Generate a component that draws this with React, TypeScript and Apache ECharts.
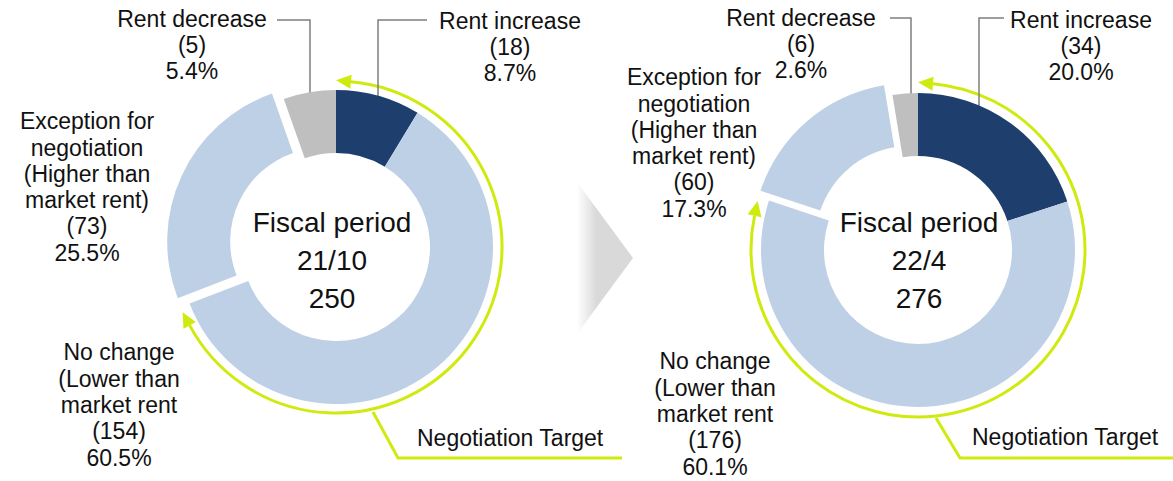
import React, { useEffect, useRef } from 'react';
import * as echarts from 'echarts';

// ---- data ----
const categories = [
  'Rent increase',
  'No change\n(Lower than\nmarket rent',
  'Exception for\nnegotiation\n(Higher than\nmarket rent)',
  'Rent decrease',
];
const periods = ['21/10', '22/4'];
const totals = [250, 276];
const countsA = [18, 154, 73, 5];
const sharesA = [8.7, 60.5, 25.5, 5.4];
const countsB = [34, 176, 60, 6];
const sharesB = [20.0, 60.1, 17.3, 2.6];
const targetLabel = 'Negotiation Target';
const centerTitle = 'Fiscal period';

const colors = ['#1E3F6E', '#BED0E6', '#BED0E6', '#BFBFBF'];
const GREEN = '#CFEA0F';
const FONT = '"Liberation Sans", Arial, sans-serif';
const EXPLODED = 2; // index of the slice pulled out of the ring
const EXPLODE_PX = 13;

// ---- layout (pixel positions of decorations) ----
const layouts = [
  {
    center: [336, 247],
    textCenter: [332, 260],
    arcR: 166,
    arcEnd: 247,
    labels: [[510, 47], [119, 405], [87, 187], [192, 45]],
    lines: {
      0: [[378, 108], [378, 20], [427, 20]],
      3: [[310, 108], [310, 20], [277, 20]],
    } as Record<number, number[][]>,
    targetText: [417, 438],
    targetLine: [[373, 412], [398, 458], [622, 458]],
  },
  {
    center: [918, 250],
    textCenter: [919, 260],
    arcR: 167,
    arcEnd: 287,
    labels: [[1081, 46], [715, 414], [694, 143], [801, 44]],
    lines: {
      0: [[979, 113], [979, 18], [1004, 18]],
      3: [[911, 102], [911, 18], [890, 18]],
    } as Record<number, number[][]>,
    targetText: [972, 437],
    targetLine: [[936, 418], [960, 458], [1173, 458]],
  },
];

const deg = Math.PI / 180;

function arrowHead(cx: number, cy: number, r: number, thetaDeg: number, dirSign: number) {
  const t = thetaDeg * deg;
  const px = cx + r * Math.sin(t);
  const py = cy - r * Math.cos(t);
  const dx = dirSign * Math.cos(t);
  const dy = dirSign * Math.sin(t);
  const nx = -dy;
  const ny = dx;
  const L = 15;
  const W = 14;
  return {
    type: 'polygon',
    shape: {
      points: [
        [px + L * dx, py + L * dy],
        [px + (W / 2) * nx, py + (W / 2) * ny],
        [px - (W / 2) * nx, py - (W / 2) * ny],
      ],
    },
    style: { fill: GREEN },
    silent: true,
  };
}

export default function App() {
  const ref = useRef<HTMLDivElement>(null);

  useEffect(() => {
    if (!ref.current) return;
    const chart = echarts.init(ref.current, undefined, { renderer: 'svg' });

    const datasets = [
      { counts: countsA, shares: sharesA },
      { counts: countsB, shares: sharesB },
    ];

    const series: any[] = [];
    datasets.forEach((ds, si) => {
      const lay = layouts[si];
      const total = ds.shares.reduce((a, b) => a + b, 0);
      const before = ds.shares.slice(0, EXPLODED).reduce((a, b) => a + b, 0);
      const midDeg = ((before + ds.shares[EXPLODED] / 2) / total) * 360;
      const offCenter = [
        lay.center[0] + EXPLODE_PX * Math.sin(midDeg * deg),
        lay.center[1] - EXPLODE_PX * Math.cos(midDeg * deg),
      ];

      // main ring with labels
      series.push({
        type: 'pie',
        center: lay.center,
        radius: [94, 157],
        startAngle: 90,
        clockwise: true,
        avoidLabelOverlap: false,
        animation: false,
        emphasis: { disabled: true, scale: false },
        label: {
          show: true,
          position: 'outside',
          formatter: (p: any) =>
            `${p.name}\n(${ds.counts[p.dataIndex]})\n${ds.shares[p.dataIndex].toFixed(1)}%`,
          fontSize: 23,
          lineHeight: 26.3,
          color: '#111',
          fontFamily: FONT,
          align: 'center',
        },
        labelLine: {
          show: true,
          length: 5,
          length2: 5,
          smooth: false,
          lineStyle: { color: '#7F7F7F', width: 1.5 },
        },
        labelLayout: (params: any) => {
          const [x, y] = lay.labels[params.dataIndex];
          const out: any = { x, y, align: 'center', verticalAlign: 'middle' };
          const lp = lay.lines[params.dataIndex];
          if (lp) out.labelLinePoints = lp;
          return out;
        },
        data: ds.shares.map((v, i) => ({
          value: v,
          name: categories[i],
          itemStyle: { color: i === EXPLODED ? 'rgba(0,0,0,0)' : colors[i] },
          labelLine: { show: i === 0 || i === 3 },
        })),
      });

      // the pulled-out slice
      series.push({
        type: 'pie',
        center: offCenter,
        radius: [94, 157],
        startAngle: 90,
        clockwise: true,
        animation: false,
        silent: true,
        emphasis: { disabled: true, scale: false },
        label: { show: false },
        labelLine: { show: false },
        data: ds.shares.map((v, i) => ({
          value: v,
          name: categories[i],
          itemStyle: { color: i === EXPLODED ? colors[i] : 'rgba(0,0,0,0)' },
        })),
      });
    });

    const graphics: any[] = [];
    layouts.forEach((lay, si) => {
      const [cx, cy] = lay.center;
      const r = lay.arcR;
      const aHead = 15 / r / deg;
      graphics.push({
        type: 'arc',
        shape: {
          cx,
          cy,
          r,
          startAngle: (aHead - 90) * deg,
          endAngle: (lay.arcEnd - aHead - 90) * deg,
          clockwise: true,
        },
        style: { stroke: GREEN, lineWidth: 3, fill: 'none' },
        silent: true,
      });
      graphics.push(arrowHead(cx, cy, r, aHead, -1));
      graphics.push(arrowHead(cx, cy, r, lay.arcEnd - aHead, 1));
      graphics.push({
        type: 'polyline',
        shape: { points: lay.targetLine },
        style: { stroke: GREEN, lineWidth: 3, fill: 'none' },
        silent: true,
      });
      graphics.push({
        type: 'text',
        x: lay.targetText[0],
        y: lay.targetText[1],
        style: {
          text: targetLabel,
          fontSize: 23,
          fontFamily: FONT,
          fill: '#111',
          align: 'left',
          verticalAlign: 'middle',
        },
        silent: true,
      });
      graphics.push({
        type: 'text',
        x: lay.textCenter[0],
        y: lay.textCenter[1],
        style: {
          text: `${centerTitle}\n${periods[si]}\n${totals[si]}`,
          fontSize: 28,
          lineHeight: 38,
          fontFamily: FONT,
          fill: '#111',
          align: 'center',
          verticalAlign: 'middle',
        },
        silent: true,
      });
    });

    graphics.push({
      type: 'polygon',
      shape: { points: [[577, 182], [633, 258], [577, 334]] },
      style: {
        fill: {
          type: 'linear',
          x: 0,
          y: 0,
          x2: 1,
          y2: 0,
          colorStops: [
            { offset: 0, color: '#FFFFFF' },
            { offset: 0.35, color: '#D9D9D9' },
            { offset: 1, color: '#D9D9D9' },
          ],
        },
      },
      silent: true,
    });

    chart.setOption({
      animation: false,
      backgroundColor: '#FFFFFF',
      series,
      graphic: { elements: graphics },
    });

    return () => chart.dispose();
  }, []);

  return (
    <div
      ref={ref}
      style={{ position: 'fixed', left: 0, top: 0, width: '1173px', height: '481px', background: '#fff' }}
    />
  );
}
